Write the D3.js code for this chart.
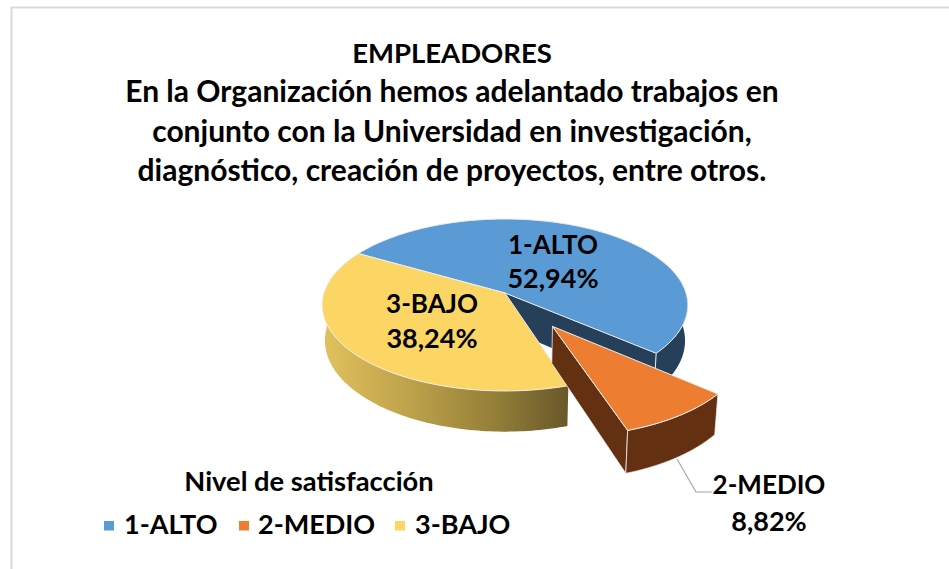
<!DOCTYPE html>
<html><head><meta charset="utf-8">
<script src="https://cdn.jsdelivr.net/npm/d3@7/dist/d3.min.js"></script>
<style>html,body{margin:0;padding:0;background:#fff}svg{display:block}text{font-family:Lato,"Open Sans",sans-serif;font-weight:700;fill:#000}</style>
</head><body><svg id="c" width="949" height="569"></svg>
<script>
const categories = ["1-ALTO", "2-MEDIO", "3-BAJO"];
const values = [52.94, 8.82, 38.24];
const valueLabels = ["52,94%", "8,82%", "38,24%"];
const titleLines = ["EMPLEADORES", "En la Organización hemos adelantado trabajos en", "conjunto con la Universidad en investigación,", "diagnóstico, creación de proyectos, entre otros."];
const legendTitle = "Nivel de satisfacción";
const topColors = ["#5B9BD5", "#ED7D31", "#FCD664"];

const svg = d3.select("#c");
const defs = svg.append("defs");
const grad = defs.append("linearGradient").attr("id","yg").attr("gradientUnits","userSpaceOnUse").attr("x1",321).attr("x2",566).attr("y1",0).attr("y2",0);
[[0,"#E2C25E"],[0.35,"#BFA34B"],[0.7,"#958039"],[1,"#6A592A"]].forEach(s=>grad.append("stop").attr("offset",s[0]).attr("stop-color",s[1]));

// frame
svg.append("path").attr("d","M11.5 569V7.5H949").attr("fill","none").attr("stroke","#d9d9d9").attr("stroke-width",2);

// perspective projection of the pie plane
const sx = d3.scaleLinear().domain([0,1]).range([505,686]);
const sy = d3.scaleLinear().domain([0,1]).range([293,377.3]);
const K = 0.1395, DEPTH = 35, EXPL = 0.45, TAU = 2*Math.PI;
function proj(u,v,d){
  const w = 1 - K*v;
  const X = u/w, Y = v/w;
  if(!d) return [sx(X), sy(Y)];
  return [sx(X*0.985), sy(Y)+DEPTH/w];
}
const line = d3.line();
const pie = d3.pie().sort(null).value(d=>d).startAngle(300*Math.PI/180).endAngle((300+360)*Math.PI/180);
const arcs = pie(values);
function pt(a,off,d){ return proj(Math.sin(a)+off[0], -Math.cos(a)+off[1], d); }
function rim(a0,a1,off,d){ const n=Math.max(2,Math.ceil(Math.abs(a1-a0)/0.02)); return d3.range(n+1).map(i=>pt(a0+(a1-a0)*i/n,off,d)); }
function apex(off,d){ return proj(off[0],off[1],d); }
function offOf(i){ if(i!==1) return [0,0]; const m=(arcs[1].startAngle+arcs[1].endAngle)/2; return [Math.sin(m)*EXPL,-Math.cos(m)*EXPL]; }
const EDGE="#EDEDED";
function poly(points,fill,sw){ svg.append("path").attr("d",line(points)+"Z").attr("fill",fill).attr("stroke",EDGE).attr("stroke-width",sw===undefined?1:sw).attr("stroke-linejoin","round"); }

// 1-ALTO: walls then top
{
  const a=arcs[0], o=offOf(0);
  const oa=a.endAngle, ob=TAU+Math.PI/2-0.2;
  poly(rim(ob,oa,o,false).concat(rim(oa,ob,o,true)),"#264059",0);
  poly([apex(o,false),pt(oa,o,false),pt(oa,o,true),apex(o,true)],"#264059",0);
  svg.append("path").attr("d",line([pt(oa,o,false),pt(oa,o,true)])).attr("stroke",EDGE).attr("stroke-width",1);
  poly([apex(o,false)].concat(rim(a.startAngle,a.endAngle,o,false)),topColors[0]);
}
// 3-BAJO
{
  const a=arcs[2], o=offOf(2);
  const end=TAU+3*Math.PI/2;
  poly(rim(a.startAngle,end,o,false).concat(rim(end,a.startAngle,o,true)),"url(#yg)",0);
  poly([apex(o,false)].concat(rim(a.startAngle,a.endAngle,o,false)),topColors[2]);
}
// 2-MEDIO
{
  const a=arcs[1], o=offOf(1), wall="#633112";
  poly([apex(o,false),pt(a.endAngle,o,false),pt(a.endAngle,o,true),apex(o,true)],wall,0.8);
  poly(rim(a.startAngle,a.endAngle,o,false).concat(rim(a.endAngle,a.startAngle,o,true)),wall,0.8);
  poly([apex(o,false)].concat(rim(a.startAngle,a.endAngle,o,false)),topColors[1]);
}

// leader
svg.append("path").attr("d","M677 459L696 492H712").attr("fill","none").attr("stroke","#A6A6A6").attr("stroke-width",1.2);

// title
const titleY=[63,102,142,181], titleSize=[27.5,30,30,30];
titleLines.forEach((t,i)=>svg.append("text").attr("x",452).attr("y",titleY[i]).attr("text-anchor","middle").attr("font-size",titleSize[i]).text(t));

// data labels
const labelPos=[[553,254,288],[769,494,531],[432,313,348]];
categories.forEach((c,i)=>{
  const p=labelPos[i];
  svg.append("text").attr("x",p[0]).attr("y",p[1]).attr("text-anchor","middle").attr("font-size",26).text(c);
  svg.append("text").attr("x",p[0]).attr("y",p[2]).attr("text-anchor","middle").attr("font-size",27).text(valueLabels[i]);
});

// legend
svg.append("text").attr("x",309).attr("y",491).attr("text-anchor","middle").attr("font-size",27.3).text(legendTitle);
const legX=[104,239,395], legT=[124,258,415];
categories.forEach((c,i)=>{
  svg.append("rect").attr("x",legX[i]).attr("y",521).attr("width",10).attr("height",9.5).attr("fill",topColors[i]);
  svg.append("text").attr("x",legT[i]).attr("y",534).attr("font-size",27).text(c);
});
</script></body></html>
